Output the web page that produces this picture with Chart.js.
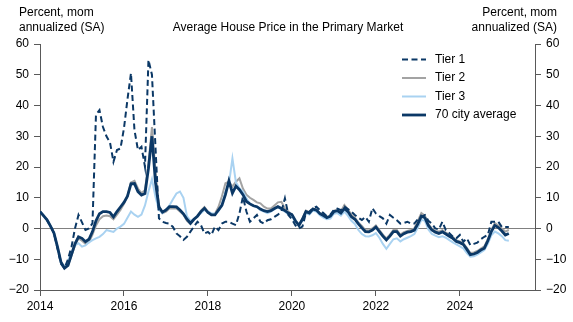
<!DOCTYPE html>
<html>
<head>
<meta charset="utf-8">
<script src="https://cdn.jsdelivr.net/npm/chart.js@4.4.1/dist/chart.umd.min.js"></script>
<style>
html,body{margin:0;padding:0;background:#fff;}
canvas{display:block;}
</style>
</head>
<body>
<canvas id="c" width="573" height="322"></canvas>
<script>
// ---- Data ----
const startYear = 2014;
const months = [];
for (let y = 2014; y <= 2025; y++) {
  for (let m = 1; m <= 12; m++) {
    if (y === 2025 && m > 3) break;
    months.push(y + '-' + String(m).padStart(2, '0'));
  }
}
const tier1 = [5.5,4.2,2.8,0.8,-1.5,-6.5,-11.5,-13.0,-10.0,-6.0,0.0,4.4,
  2.0,-0.5,0.0,1.7,37.0,38.5,33.0,30.0,28.0,21.7,25.5,26.0,
  32.6,42.0,50.5,32.0,25.5,26.6,20.1,54.8,50.0,26.6,3.3,2.2,
  1.8,1.6,0.5,-1.6,-2.5,-3.7,-2.7,-1.0,0.6,2.2,1.1,-1.6,
  -1.1,-2.1,0.6,-0.5,1.6,2.2,2.2,1.6,1.1,4.9,10.3,5.5,
  2.2,3.3,4.4,2.2,1.6,2.7,3.0,3.8,4.5,5.5,9.8,4.4,
  3.0,1.0,0.0,0.6,5.0,5.5,6.5,7.1,6.0,5.0,4.0,4.5,
  6.0,6.5,6.0,7.1,6.3,5.5,4.4,3.5,2.8,3.8,2.2,6.6,
  4.9,4.0,3.3,1.6,4.4,3.5,2.7,1.6,1.8,2.2,1.6,1.6,
  3.0,3.8,4.4,2.5,1.6,0.0,-0.3,2.2,-0.5,-1.5,-2.7,-3.2,
  -2.1,-4.3,-3.2,-5.4,-5.0,-4.6,-3.5,-2.7,-2.1,2.2,2.2,2.2,
  0.5,0.5,0.5];
const tier2 = [5.5,4.2,2.8,0.8,-1.5,-6.0,-11.0,-12.5,-12.0,-8.8,-5.5,-3.2,
  -4.0,-5.0,-4.5,-2.0,1.0,3.0,4.0,4.2,4.0,3.0,4.5,6.0,
  8.0,10.5,15.0,15.5,13.0,11.5,12.5,21.0,33.0,19.0,7.5,5.0,
  5.5,6.5,6.5,6.5,5.5,4.5,2.5,1.5,2.8,4.0,5.8,7.0,
  5.5,4.6,4.8,7.0,10.5,14.7,15.2,13.6,15.2,16.3,13.0,11.0,
  10.0,9.3,8.5,8.2,7.1,6.5,6.5,7.5,8.5,8.7,6.5,5.5,
  4.5,2.5,1.2,3.2,5.8,5.3,6.5,6.2,5.0,4.5,3.8,4.2,
  5.8,6.0,5.5,7.6,6.2,4.5,3.5,2.0,0.8,-0.5,-0.6,0.0,
  1.0,-0.5,-2.0,-3.2,-2.0,-0.5,-0.5,-2.0,-1.2,-0.8,-0.5,0.0,
  2.5,5.0,4.2,1.5,0.0,-0.8,-1.0,-0.5,-1.3,-2.0,-2.8,-3.8,
  -4.2,-4.8,-6.3,-8.0,-7.8,-7.3,-6.5,-5.8,-3.5,-0.5,1.8,1.0,
  0.0,-1.0,-0.5];
const tier3 = [5.5,4.2,2.8,0.8,-1.5,-6.0,-11.0,-12.5,-10.5,-7.6,-5.5,-4.8,
  -5.9,-5.5,-4.5,-3.8,-3.2,-2.7,-1.8,-0.5,-0.8,-1.1,0.0,0.6,
  1.5,3.5,5.5,4.5,3.8,4.5,7.5,12.0,16.0,10.3,6.0,5.0,
  6.0,7.5,9.5,11.4,12.0,10.0,4.0,2.5,3.0,3.8,5.0,6.0,
  5.5,5.0,4.8,5.5,8.0,12.0,14.5,22.8,15.0,13.1,12.0,9.8,
  8.0,7.4,7.0,6.0,5.5,5.0,5.5,6.3,7.0,6.2,5.5,4.5,
  4.0,2.0,1.0,2.5,5.0,4.5,5.8,5.5,4.3,3.5,3.0,3.2,
  4.8,5.0,4.2,5.5,4.2,2.5,1.5,-0.5,-1.8,-2.5,-2.6,-2.2,
  -1.5,-3.0,-5.0,-6.6,-5.0,-3.5,-3.2,-4.2,-3.5,-3.0,-2.5,-1.8,
  0.3,2.8,2.5,-0.3,-1.8,-2.3,-2.8,-2.5,-3.0,-3.8,-4.5,-5.2,
  -5.8,-6.5,-8.0,-9.2,-9.0,-8.5,-7.8,-7.0,-5.0,-2.2,-1.0,-1.6,
  -2.5,-3.8,-4.0];
const avg70 = [5.5,4.2,2.8,0.8,-1.5,-6.0,-11.0,-12.9,-12.0,-8.5,-5.0,-2.7,
  -3.2,-4.3,-3.5,-1.0,2.5,4.8,5.5,5.5,5.2,3.8,5.5,7.0,
  8.5,10.5,14.5,14.6,12.0,10.9,11.4,19.6,30.0,15.0,7.0,5.3,
  6.0,7.1,7.1,7.0,6.0,4.8,3.0,1.7,3.0,4.0,5.5,6.6,
  5.2,4.4,4.4,6.0,7.5,11.0,15.5,11.5,13.8,12.6,11.0,8.8,
  8.0,7.4,7.1,6.3,5.8,5.5,5.8,6.5,7.1,6.5,5.8,5.0,
  4.5,2.5,1.0,3.0,5.5,5.0,6.3,6.0,4.8,4.2,3.5,4.0,
  5.5,5.8,5.0,6.5,5.5,3.8,3.0,1.5,0.2,-1.0,-1.1,-0.5,
  0.5,-1.0,-2.5,-3.7,-2.5,-1.0,-1.0,-2.5,-1.7,-1.2,-1.0,-0.5,
  1.5,4.0,3.5,1.0,-0.5,-1.2,-1.6,-1.1,-1.8,-2.5,-3.2,-4.2,
  -4.6,-5.2,-6.8,-8.5,-8.3,-7.8,-7.0,-6.4,-4.0,-1.0,1.0,0.3,
  -0.8,-2.1,-1.6];
const xTicks = [2014, 2016, 2018, 2020, 2022, 2024];
const yTicks = [-20, -10, 0, 10, 20, 30, 40, 50, 60];
const seriesNames = ['Tier 1', 'Tier 2', 'Tier 3', '70 city average'];

// ---- Helpers ----
function toPoints(vals) {
  return vals.map((v, i) => {
    const [y, m] = months[i].split('-').map(Number);
    return { x: y + (m - 1) / 12, y: v };
  });
}
const NAVY = '#0b3866';
const GREY = '#a3a3a3';
const LBLUE = '#a9d2f1';
const AXIS = '#595959';
const FONT = "'Liberation Sans', Arial, sans-serif";

const styles = [
  { color: NAVY, width: 2, dash: [6, 3.5] },
  { color: GREY, width: 2, dash: [] },
  { color: LBLUE, width: 2, dash: [] },
  { color: NAVY, width: 2.8, dash: [] }
];

const textPlugin = {
  id: 'texts',
  afterDraw(chart) {
    const c = chart.ctx;
    c.save();
    c.fillStyle = '#000';
    c.font = '12px ' + FONT;
    c.textBaseline = 'middle';
    c.textAlign = 'left';
    c.fillText('Percent, mom', 19, 13);
    c.fillText('annualized (SA)', 19, 28);
    c.textAlign = 'right';
    c.fillText('Percent, mom', 557, 13);
    c.fillText('annualized (SA)', 557, 28);
    c.textAlign = 'center';
    c.fillText('Average House Price in the Primary Market', 288, 28);
    // legend
    const ly = [59.5, 78, 96.5, 115];
    c.textAlign = 'left';
    seriesNames.forEach((n, k) => {
      const s = styles[k];
      c.beginPath();
      c.strokeStyle = s.color;
      c.lineWidth = s.width;
      c.setLineDash(s.dash);
      c.moveTo(402, ly[k]);
      c.lineTo(426, ly[k]);
      c.stroke();
      c.setLineDash([]);
      c.fillStyle = '#000';
      c.fillText(n, 435, ly[k]);
    });
    c.restore();
  }
};

const fmt = v => String(v).replace('-', '\u2212');

const yScale = (pos, w) => ({
  type: 'linear',
  position: pos,
  min: -20, max: 60,
  afterBuildTicks: s => { s.ticks = yTicks.map(v => ({ value: v })); },
  afterFit: s => { s.width = w; },
  grid: {
    drawOnChartArea: pos === 'left',
    color: ctx => (ctx.tick && ctx.tick.value === 0 && pos === 'left') ? '#808080' : 'rgba(0,0,0,0)',
    lineWidth: 1,
    tickColor: AXIS,
    tickLength: 6
  },
  border: { display: true, color: AXIS, width: 1 },
  ticks: { color: '#000', font: { family: FONT, size: 12 }, padding: 5, callback: fmt }
});

new Chart(document.getElementById('c'), {
  type: 'line',
  data: {
    datasets: [tier2, tier3, tier1, avg70].map((vals, j) => {
      const k = [1, 2, 0, 3][j];
      return {
        label: seriesNames[k],
        data: toPoints(vals),
        borderColor: styles[k].color,
        borderWidth: styles[k].width,
        borderDash: styles[k].dash,
        pointRadius: 0,
        fill: false,
        tension: 0,
        order: 4 - j
      };
    })
  },
  options: {
    responsive: false,
    animation: false,
    layout: { padding: { top: 44, left: 0, right: 0, bottom: 0 } },
    plugins: { legend: { display: false }, tooltip: { enabled: false }, title: { display: false } },
    scales: {
      x: {
        type: 'linear',
        min: 2014, max: 2025.79,
        afterBuildTicks: s => { s.ticks = xTicks.map(v => ({ value: v })); },
        afterFit: s => { s.height = 32; },
        grid: { drawOnChartArea: false, tickColor: AXIS, tickLength: 6 },
        border: { display: true, color: AXIS, width: 1 },
        ticks: { color: '#000', font: { family: FONT, size: 12 }, padding: 3, maxRotation: 0, autoSkip: false, callback: v => String(v) }
      },
      y: yScale('left', 40),
      y2: yScale('right', 38)
    }
  },
  plugins: [textPlugin]
});
</script>
</body>
</html>
